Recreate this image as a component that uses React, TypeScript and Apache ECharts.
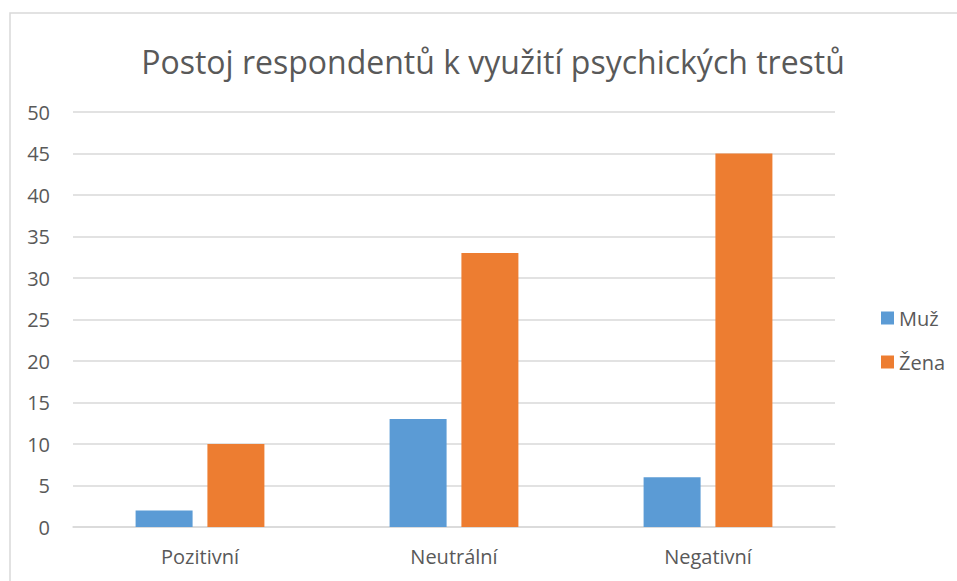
import React, { useEffect, useRef } from "react";
import * as echarts from "echarts";

const categories = ["Pozitivní", "Neutrální", "Negativní"];
const muzValues = [2, 13, 6];
const zenaValues = [10, 33, 45];
const seriesNames = ["Muž", "Žena"];
const titleText = "Postoj respondentů k využití psychických trestů";

export default function App() {
  const ref = useRef<HTMLDivElement>(null);
  useEffect(() => {
    document.body.style.margin = "0";
    const chart = echarts.init(ref.current!, null, { renderer: "svg" });
    const font = "'Open Sans', 'Liberation Sans', sans-serif";
    chart.setOption({
      animation: false,
      backgroundColor: "#ffffff",
      textStyle: { fontFamily: font },
      graphic: [
        {
          type: "rect",
          shape: { x: 10, y: 13, width: 970, height: 600 },
          style: { fill: "none", stroke: "#d9d9d9", lineWidth: 1.5 },
          silent: true,
        },
      ],
      title: {
        text: titleText,
        left: 488,
        top: 36,
        textAlign: "center",
        textStyle: { fontFamily: font, fontSize: 32, fontWeight: "normal", color: "#595959", lineHeight: 40 },
      },
      legend: {
        orient: "vertical",
        left: 876,
        top: 303,
        itemWidth: 13,
        itemHeight: 13,
        itemGap: 24,
        icon: "rect",
        textStyle: { fontFamily: font, fontSize: 20, lineHeight: 20, color: "#595959", padding: [0, 0, 0, 0] },
        data: seriesNames,
      },
      grid: { left: 73, right: 122, top: 112, bottom: 54 },
      xAxis: {
        type: "category",
        data: categories,
        axisLine: { show: true, lineStyle: { color: "#d9d9d9", width: 1.5 } },
        axisTick: { show: false },
        axisLabel: { fontFamily: font, fontSize: 20, color: "#595959", margin: 19 },
      },
      yAxis: {
        type: "value",
        min: 0,
        max: 50,
        interval: 5,
        axisLine: { show: false },
        axisTick: { show: false },
        splitLine: { lineStyle: { color: "#d9d9d9", width: 1.5 } },
        axisLabel: { fontFamily: font, fontSize: 20, color: "#595959", margin: 23 },
      },
      series: [
        {
          name: seriesNames[0],
          type: "bar",
          data: muzValues,
          barWidth: 57,
          barGap: "26%",
          itemStyle: { color: "#5b9bd5" },
        },
        {
          name: seriesNames[1],
          type: "bar",
          data: zenaValues,
          barWidth: 57,
          barGap: "26%",
          itemStyle: { color: "#ed7d31" },
        },
      ],
    });
    return () => chart.dispose();
  }, []);
  return <div ref={ref} style={{ width: 957, height: 581 }} />;
}
